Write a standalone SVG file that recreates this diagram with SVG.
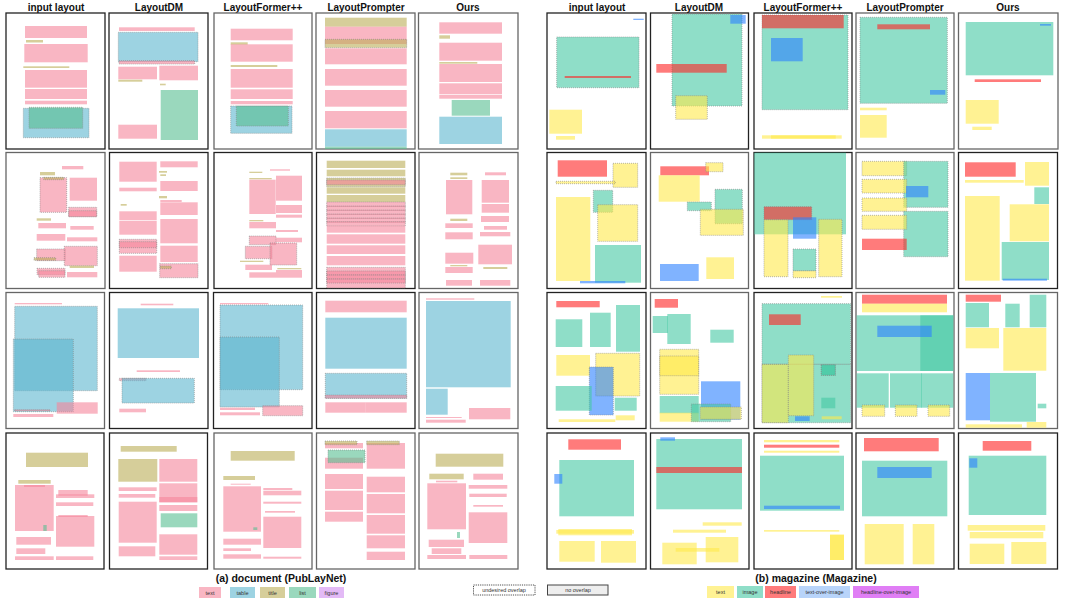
<svg xmlns="http://www.w3.org/2000/svg" width="1079" height="602" viewBox="0 0 1079 602">
<style>
.p{fill:#fff;stroke:#222;stroke-width:1.3}
.g{stroke:#666}
.t{fill:#f5859b;fill-opacity:.6}
.tb{fill:#5cb6cf;fill-opacity:.6}
.ti{fill:#bbad57;fill-opacity:.6}
.li{fill:#57be91;fill-opacity:.6}
.mt{fill:#ffe94b;fill-opacity:.6}
.mi{fill:#44c8a3;fill-opacity:.6}
.mh{fill:#ff2323;fill-opacity:.6}
.to{fill:#2b80ff;fill-opacity:.6}
.o{stroke:#888;stroke-width:.6;stroke-dasharray:1 1}
.h{font-family:"Liberation Sans",Arial,sans-serif;font-weight:bold;font-size:10px;fill:#111;text-anchor:middle}
.cap{font-family:"Liberation Sans",Arial,sans-serif;font-weight:bold;font-size:10.5px;fill:#111;text-anchor:middle}
.lg{font-family:"Liberation Sans",Arial,sans-serif;font-size:5.5px;fill:#333;text-anchor:middle}
</style>

<g id="headers">
<text class="h" x="56" y="11">input layout</text>
<text class="h" x="159" y="11">LayoutDM</text>
<text class="h" x="263" y="11">LayoutFormer++</text>
<text class="h" x="366" y="11">LayoutPrompter</text>
<text class="h" x="468" y="11">Ours</text>
<text class="h" x="597" y="11">input layout</text>
<text class="h" x="699" y="11">LayoutDM</text>
<text class="h" x="803" y="11">LayoutFormer++</text>
<text class="h" x="905" y="11">LayoutPrompter</text>
<text class="h" x="1008" y="11">Ours</text>
</g>

<!-- ROW 1 -->
<g id="doc-r1-input">
<rect class="p" x="6" y="13" width="99" height="136"/>
<rect class="t" x="25" y="26" width="62" height="12"/>
<rect class="ti" x="26" y="40" width="17" height="2.5"/>
<rect class="t" x="24.3" y="44" width="63.4" height="18.3"/>
<rect class="ti" x="23.3" y="66.3" width="46" height="1.7"/>
<rect class="t" x="25" y="70" width="62" height="17.7"/>
<rect class="t" x="25" y="89" width="62" height="10"/>
<rect class="t" x="25" y="100.7" width="62" height="3.6"/>
<rect class="tb o" x="23.3" y="108.3" width="65.7" height="29.4"/>
<rect class="li o" x="29" y="107.3" width="53.7" height="21"/>
</g>
<g id="doc-r1-layoutdm">
<rect class="p" x="109" y="13" width="99" height="136"/>
<rect class="t" x="119" y="27.3" width="75.7" height="3.7"/>
<rect class="tb o" x="118.3" y="32.3" width="79.7" height="29.4"/>
<rect class="t o" x="119" y="60.7" width="75.7" height="3.3"/>
<rect class="t" x="118.3" y="66.7" width="38.7" height="12.6"/>
<rect class="t" x="159.3" y="65.7" width="38.7" height="14.6"/>
<rect class="ti" x="118.3" y="79.7" width="24" height="2"/>
<rect class="ti" x="160" y="83.7" width="5.7" height="1.6"/>
<rect class="li" x="160.7" y="90" width="37.3" height="50"/>
<rect class="t" x="118.3" y="124.7" width="38.7" height="14"/>
</g>
<g id="doc-r1-layoutformer">
<rect class="p g" x="214" y="13" width="98" height="136"/>
<rect class="t" x="230.7" y="28.7" width="62" height="11.6"/>
<rect class="ti" x="230.7" y="42.3" width="17" height="2.4"/>
<rect class="t" x="230.7" y="44.3" width="62" height="17.4"/>
<rect class="ti" x="230.7" y="65" width="46.6" height="2"/>
<rect class="t" x="230.7" y="69" width="62" height="18.7"/>
<rect class="t" x="230.7" y="89.3" width="62" height="9.7"/>
<rect class="t" x="230.7" y="101" width="62" height="3.3"/>
<rect class="tb o" x="230.7" y="106" width="61.3" height="27.3"/>
<rect class="li o" x="236.3" y="106" width="52" height="20"/>
</g>
<g id="doc-r1-layoutprompter">
<rect class="p g" x="316" y="13" width="99" height="136"/>
<rect class="ti" x="325" y="17.7" width="81.7" height="9"/>
<rect class="t" x="325" y="26.7" width="81.7" height="17.3"/>
<rect class="ti o" x="325" y="39.3" width="81.7" height="8.4"/>
<rect class="t" x="325" y="48.3" width="81.7" height="16"/>
<rect class="t" x="325" y="69" width="81.7" height="16.7"/>
<rect class="t" x="325" y="90" width="81.7" height="16.7"/>
<rect class="t" x="325" y="111" width="81.7" height="17.3"/>
<rect class="tb" x="325" y="129.3" width="81.7" height="17.4"/>
<rect class="li" x="325" y="146.7" width="81.7" height="2.3"/>
</g>
<g id="doc-r1-ours">
<rect class="p g" x="418.5" y="13" width="99.5" height="136"/>
<rect class="t" x="439.3" y="22.3" width="62.7" height="11.4"/>
<rect class="ti" x="439.3" y="35.3" width="10.7" height="3.4"/>
<rect class="t" x="439.3" y="42.7" width="62.7" height="18"/>
<rect class="ti" x="439.3" y="62" width="38" height="1.7"/>
<rect class="t" x="439.3" y="64" width="62.7" height="18"/>
<rect class="t" x="439.3" y="83.3" width="62.7" height="11"/>
<rect class="t" x="439.3" y="95" width="62.7" height="3.7"/>
<rect class="li" x="451.7" y="100" width="38.3" height="15.7"/>
<rect class="tb" x="439.3" y="116.7" width="62.7" height="27.3"/>
</g>
<g id="mag-r1-input">
<rect class="p" x="547" y="13" width="99" height="136"/>
<rect class="to" x="633.3" y="18.7" width="10.4" height="1.3"/>
<rect class="mi o" x="556.7" y="37" width="82.3" height="50.7"/>
<rect class="mh" x="564.7" y="76" width="66.3" height="2"/>
<rect class="mt" x="549.3" y="109.7" width="32.7" height="24"/>
<rect class="mt" x="556" y="136" width="19" height="3.7"/>
</g>
<g id="mag-r1-layoutdm">
<rect class="p" x="650.5" y="13" width="98" height="136"/>
<rect class="mi o" x="672" y="14" width="70" height="92"/>
<rect class="to" x="730.3" y="15" width="15.4" height="8.7"/>
<rect class="mh" x="656.3" y="64" width="70.4" height="8.7"/>
<rect class="mt o" x="675.7" y="95.7" width="31.6" height="23.6"/>
</g>
<g id="mag-r1-layoutformer">
<rect class="p" x="754" y="13" width="98" height="136"/>
<rect class="mi o" x="762" y="15" width="86" height="94.7"/>
<rect class="mh" x="762" y="15" width="81.7" height="13.3"/>
<rect class="to" x="771" y="38" width="31.7" height="23.3"/>
<rect class="mt" x="762" y="135.3" width="79.7" height="3.4"/>
<rect class="mt" x="771" y="135.3" width="64.7" height="3.4"/>
</g>
<g id="mag-r1-layoutprompter">
<rect class="p g" x="856" y="13" width="98" height="136"/>
<rect class="mi o" x="860" y="17.3" width="87.3" height="86"/>
<rect class="mh" x="877.3" y="24.3" width="52.7" height="5"/>
<rect class="to" x="930" y="90" width="15.3" height="4.7"/>
<rect class="mt" x="860" y="107.7" width="26.7" height="2.6"/>
<rect class="mt" x="860" y="115" width="26.7" height="22.7"/>
</g>
<g id="mag-r1-ours">
<rect class="p g" x="958.5" y="13" width="99.5" height="136"/>
<rect class="mi" x="965.7" y="22" width="87.6" height="53.3"/>
<rect class="to" x="1040" y="24" width="11" height="1.7"/>
<rect class="mh" x="974.7" y="79.3" width="66.3" height="2.7"/>
<rect class="mt" x="965.7" y="100" width="33" height="23.7"/>
<rect class="mt" x="972.3" y="126.7" width="19.4" height="3.3"/>
</g>

<!-- ROW 2 -->
<g id="doc-r2-input">
<rect class="p g" x="6" y="152.5" width="99" height="136"/>
<rect class="t" x="62" y="166" width="21.3" height="3.3"/>
<rect class="ti" x="40" y="172" width="15" height="3.3"/>
<rect class="t o" x="40" y="177.7" width="26.7" height="34.6"/>
<rect class="ti o" x="43.7" y="177.3" width="20" height="2.4"/>
<rect class="t" x="69.7" y="177.7" width="27.3" height="23"/>
<rect class="t o" x="68.7" y="207.3" width="28" height="9.4"/>
<rect class="t o" x="68.7" y="210.7" width="28" height="6"/>
<rect class="ti" x="36.7" y="218.3" width="14.3" height="2.4"/>
<rect class="t" x="38.3" y="223" width="27.7" height="5.3"/>
<rect class="t" x="70.3" y="226" width="23.4" height="3.7"/>
<rect class="t" x="36.7" y="234" width="28.6" height="6.7"/>
<rect class="t" x="67" y="237.3" width="30.3" height="4"/>
<rect class="t o" x="36.7" y="249" width="28.6" height="11.7"/>
<rect class="t o" x="64.3" y="246.3" width="33" height="19.4"/>
<rect class="ti o" x="34" y="257.7" width="21.7" height="2.6"/>
<rect class="ti" x="69.7" y="265.7" width="24.3" height="2.3"/>
<rect class="t o" x="37" y="268.3" width="28" height="6.4"/>
<rect class="t o" x="38.7" y="270.7" width="26.3" height="6.6"/>
<rect class="t" x="67" y="272" width="30.3" height="5.3"/>
</g>
<g id="doc-r2-layoutdm">
<rect class="p" x="109.5" y="152.5" width="98.5" height="136"/>
<rect class="t" x="119.3" y="161.7" width="37.4" height="20"/>
<rect class="t" x="160.3" y="161.3" width="37.4" height="6"/>
<rect class="ti" x="159" y="171" width="8" height="1.7"/>
<rect class="ti" x="160.3" y="174.3" width="5.7" height="1.7"/>
<rect class="t" x="160.3" y="181" width="37.4" height="10"/>
<rect class="t" x="119.3" y="187.7" width="37.4" height="3.6"/>
<rect class="ti" x="159" y="196" width="8" height="2.3"/>
<rect class="t" x="160.3" y="200" width="21.4" height="2"/>
<rect class="ti" x="120.7" y="204" width="6" height="1.7"/>
<rect class="t" x="160.3" y="202.3" width="37.4" height="12.7"/>
<rect class="t" x="119.3" y="211.3" width="37.4" height="8.7"/>
<rect class="t" x="119.3" y="220.7" width="37.4" height="14"/>
<rect class="t" x="160.3" y="219" width="37.4" height="24.3"/>
<rect class="t o" x="119.3" y="239.3" width="37.4" height="14"/>
<rect class="t o" x="119.3" y="241.7" width="37.4" height="6"/>
<rect class="t" x="119.3" y="255.7" width="37.4" height="16"/>
<rect class="t" x="160.3" y="245.7" width="37.4" height="16.3"/>
<rect class="t o" x="159.7" y="263.7" width="38.3" height="14"/>
<rect class="ti o" x="160.3" y="266" width="11" height="2.7"/>
</g>
<g id="doc-r2-layoutformer">
<rect class="p" x="214" y="152.5" width="98" height="136"/>
<rect class="t" x="270" y="169.3" width="20" height="1.4"/>
<rect class="ti" x="249.3" y="171.7" width="13" height="1.3"/>
<rect class="ti" x="249.3" y="178" width="22.4" height="1.3"/>
<rect class="t" x="249.3" y="179.7" width="26.4" height="34.3"/>
<rect class="t" x="276" y="175.7" width="26" height="25"/>
<rect class="t" x="276" y="205" width="26" height="8"/>
<rect class="t" x="276" y="214.7" width="26" height="3"/>
<rect class="ti" x="249.3" y="220" width="14" height="1.3"/>
<rect class="t" x="249.3" y="222" width="26.7" height="6.3"/>
<rect class="t" x="276" y="230" width="22" height="2"/>
<rect class="t o" x="249.3" y="236" width="26.7" height="8.7"/>
<rect class="t" x="276" y="237.7" width="26" height="4.6"/>
<rect class="t o" x="245.3" y="246.3" width="26.7" height="12.4"/>
<rect class="t o" x="270" y="243" width="26.7" height="22"/>
<rect class="ti" x="240" y="260.7" width="23.3" height="1.3"/>
<rect class="t" x="245.3" y="264.7" width="26.7" height="5.3"/>
<rect class="ti" x="277.3" y="268" width="24" height="1.3"/>
<rect class="t" x="249.3" y="272.3" width="26.7" height="5.4"/>
<rect class="t" x="276" y="270" width="26" height="7.7"/>
</g>
<g id="doc-r2-layoutprompter">
<rect class="p" x="316.5" y="152.5" width="98.5" height="136"/>
<rect class="ti" x="326.7" y="160.7" width="78.6" height="7.3"/>
<rect class="ti" x="326.7" y="169.7" width="78.6" height="6.6"/>
<rect class="ti o" x="326.7" y="178" width="78.6" height="8.7"/>
<rect class="t o" x="326.7" y="180" width="78.6" height="4.7"/>
<rect class="ti" x="326.7" y="187.3" width="78.6" height="6.4"/>
<rect class="ti" x="326.7" y="195" width="78.6" height="7"/>
<rect class="t o" x="326.7" y="202" width="78.6" height="4.5"/>
<rect class="t o" x="326.7" y="206" width="78.6" height="4.5"/>
<rect class="t o" x="326.7" y="210" width="78.6" height="4.5"/>
<rect class="t o" x="326.7" y="214" width="78.6" height="4.5"/>
<rect class="t o" x="326.7" y="218" width="78.6" height="4.5"/>
<rect class="t o" x="326.7" y="221.5" width="78.6" height="4.5"/>
<rect class="t" x="326.7" y="226" width="78.6" height="6.7"/>
<rect class="t" x="326.7" y="234.3" width="78.6" height="9.4"/>
<rect class="t" x="326.7" y="245.3" width="78.6" height="8.7"/>
<rect class="t" x="326.7" y="256" width="78.6" height="9.3"/>
<rect class="t o" x="326.7" y="267.3" width="78.6" height="20.7"/>
<rect class="t o" x="326.7" y="271" width="78.6" height="4"/>
<rect class="t o" x="326.7" y="275" width="78.6" height="4"/>
<rect class="t o" x="326.7" y="279" width="78.6" height="4"/>
</g>
<g id="doc-r2-ours">
<rect class="p g" x="419" y="152.5" width="99" height="136"/>
<rect class="ti" x="450.3" y="172.7" width="17" height="2.6"/>
<rect class="t" x="485" y="172.3" width="21" height="3"/>
<rect class="ti" x="450.3" y="177.3" width="17" height="1.7"/>
<rect class="t" x="446" y="180" width="26.3" height="34.3"/>
<rect class="t" x="481.7" y="180" width="27.3" height="22.7"/>
<rect class="t" x="481.7" y="204" width="27.3" height="8.7"/>
<rect class="t" x="481" y="216" width="28" height="6"/>
<rect class="ti" x="450.3" y="218.7" width="17" height="2.3"/>
<rect class="t" x="445.3" y="223.3" width="27.4" height="4.7"/>
<rect class="t" x="484" y="226" width="23" height="3.7"/>
<rect class="t" x="445.3" y="232.3" width="27.4" height="7"/>
<rect class="t" x="480" y="232" width="30.3" height="4.3"/>
<rect class="t" x="478.3" y="244.7" width="33.7" height="19.6"/>
<rect class="t" x="445.3" y="252.7" width="28" height="11"/>
<rect class="ti" x="450.3" y="265" width="17" height="1.3"/>
<rect class="t" x="445.3" y="267" width="27.4" height="6"/>
<rect class="ti" x="483.3" y="267" width="24" height="2"/>
<rect class="t" x="446" y="280" width="26" height="5.7"/>
<rect class="t" x="480" y="280" width="30.3" height="5.7"/>
</g>
<g id="mag-r2-input">
<rect class="p" x="547" y="152.5" width="99" height="136"/>
<rect class="mh" x="557.7" y="160.3" width="49.3" height="16.4"/>
<rect class="mt o" x="613" y="163.3" width="24.7" height="24"/>
<rect class="mt o" x="556" y="181.3" width="59.3" height="2.4"/>
<rect class="mi o" x="593.3" y="190.3" width="19.4" height="22"/>
<rect class="mt" x="556" y="197" width="34.3" height="84"/>
<rect class="mt o" x="597.7" y="204.7" width="40" height="36.6"/>
<rect class="mi" x="595" y="245" width="46" height="37.7"/>
<rect class="to" x="580" y="281" width="45.3" height="2.3"/>
</g>
<g id="mag-r2-layoutdm">
<rect class="p g" x="650.5" y="152.5" width="98" height="136"/>
<rect class="mh" x="660.3" y="166.3" width="48.7" height="9"/>
<rect class="mt o" x="705.7" y="162.7" width="17.3" height="9"/>
<rect class="mt" x="658.7" y="175.3" width="41" height="26.4"/>
<rect class="mi o" x="687.3" y="202" width="24" height="8.7"/>
<rect class="mi o" x="715" y="189.3" width="27.3" height="34.4"/>
<rect class="mt o" x="700.3" y="209.3" width="43" height="26"/>
<rect class="to" x="660" y="264" width="38.7" height="17"/>
<rect class="mt" x="706.3" y="257.3" width="27.7" height="21.7"/>
</g>
<g id="mag-r2-layoutformer">
<rect class="p" x="754" y="152.5" width="98" height="136"/>
<rect class="mi" x="754.3" y="152.7" width="91.7" height="81.6"/>
<rect class="mh o" x="764" y="206.7" width="47.7" height="13"/>
<rect class="mt o" x="764" y="219.7" width="24" height="57"/>
<rect class="to" x="793" y="217.3" width="23.3" height="21.4"/>
<rect class="mt o" x="818.7" y="219.3" width="23.3" height="57.4"/>
<rect class="mt o" x="793" y="270.7" width="23" height="7"/>
<rect class="mi o" x="793" y="249" width="23" height="21.7"/>
</g>
<g id="mag-r2-layoutprompter">
<rect class="p g" x="856" y="152.5" width="98" height="136"/>
<rect class="mt o" x="862" y="161.3" width="44.7" height="14.4"/>
<rect class="mi o" x="903.7" y="161.3" width="44.3" height="46"/>
<rect class="mt o" x="862" y="179.3" width="44.7" height="13.7"/>
<rect class="to" x="906" y="186" width="22.3" height="11.3"/>
<rect class="mt o" x="862" y="198" width="44.7" height="13.3"/>
<rect class="mi o" x="903.7" y="211.3" width="44.3" height="45.4"/>
<rect class="mt o" x="862" y="215.3" width="44.7" height="14"/>
<rect class="mh" x="862" y="238.7" width="44.7" height="11.3"/>
</g>
<g id="mag-r2-ours">
<rect class="p" x="958.5" y="152.5" width="99" height="136"/>
<rect class="mh" x="965" y="162.3" width="50.7" height="14.4"/>
<rect class="mt" x="1025" y="162" width="24" height="23.7"/>
<rect class="mt" x="965" y="180" width="58.7" height="2.7"/>
<rect class="mi" x="1034.3" y="187.3" width="14.7" height="16.7"/>
<rect class="mt" x="965" y="196" width="34.7" height="84.7"/>
<rect class="mt" x="1009.7" y="204.3" width="39.3" height="37"/>
<rect class="mi" x="1001.7" y="242" width="47.3" height="38"/>
<rect class="to" x="1002.7" y="278.7" width="44.3" height="2"/>
</g>

<!-- ROW 3 -->
<g id="doc-r3-input">
<rect class="p g" x="6" y="292.5" width="98.5" height="136"/>
<rect class="t" x="14.7" y="303" width="47.3" height="1.3"/>
<rect class="tb o" x="14.7" y="306.3" width="82.6" height="84.4"/>
<rect class="tb o" x="13.3" y="339" width="60" height="72.7"/>
<rect class="t" x="56.7" y="402.3" width="41" height="11.4"/>
<rect class="t o" x="14.7" y="409.7" width="35.3" height="1.3"/>
<rect class="t" x="13.3" y="414" width="40" height="3"/>
</g>
<g id="doc-r3-layoutdm">
<rect class="p" x="109.5" y="292.5" width="98.5" height="136"/>
<rect class="t" x="140.7" y="303.7" width="32.6" height="1.6"/>
<rect class="tb" x="117.7" y="308.3" width="81.3" height="49.7"/>
<rect class="t" x="136.7" y="370.3" width="43.3" height="1.7"/>
<rect class="t o" x="119.3" y="378.3" width="26.7" height="2.4"/>
<rect class="tb o" x="122" y="378.3" width="72.3" height="24.7"/>
<rect class="t" x="119.3" y="408.7" width="26.7" height="3.6"/>
</g>
<g id="doc-r3-layoutformer">
<rect class="p" x="213.5" y="292.5" width="98.5" height="136"/>
<rect class="t" x="220" y="303" width="48.3" height="1.3"/>
<rect class="tb o" x="220" y="305" width="82.7" height="84.7"/>
<rect class="tb o" x="220" y="337" width="59.3" height="70"/>
<rect class="t" x="220" y="407.7" width="35" height="2.3"/>
<rect class="t" x="220" y="412.3" width="40" height="3"/>
<rect class="t o" x="262.7" y="405.7" width="40" height="10"/>
</g>
<g id="doc-r3-layoutprompter">
<rect class="p" x="316.5" y="292.5" width="98.5" height="136"/>
<rect class="t" x="325.3" y="300.7" width="81.4" height="11.6"/>
<rect class="tb" x="325.3" y="317.7" width="81.4" height="51"/>
<rect class="tb o" x="325.3" y="373.3" width="81.4" height="25"/>
<rect class="t o" x="325.3" y="395" width="81.4" height="3.3"/>
<rect class="t" x="325.3" y="402.3" width="40" height="10.4"/>
<rect class="t" x="365.3" y="402.3" width="41.4" height="10.4"/>
</g>
<g id="doc-r3-ours">
<rect class="p g" x="419" y="292.5" width="99" height="136"/>
<rect class="t" x="426" y="298.3" width="48.3" height="1.4"/>
<rect class="tb" x="426" y="301" width="84.7" height="86.3"/>
<rect class="tb" x="426" y="388.7" width="21.7" height="26"/>
<rect class="t" x="469" y="408" width="41.3" height="11.3"/>
<rect class="t" x="426" y="417" width="35.7" height="1"/>
<rect class="t" x="426" y="419.7" width="39.7" height="3"/>
</g>
<g id="mag-r3-input">
<rect class="p" x="547" y="292.5" width="99" height="136"/>
<rect class="mh" x="556.3" y="301" width="43.4" height="6.3"/>
<rect class="mi" x="555.7" y="319.3" width="26.6" height="27.7"/>
<rect class="mi" x="590" y="312.7" width="20.7" height="34.3"/>
<rect class="mi" x="616" y="305" width="24" height="46.7"/>
<rect class="mt" x="556.3" y="355" width="33.7" height="20.7"/>
<rect class="mt o" x="595.7" y="353.3" width="44" height="42.7"/>
<rect class="to o" x="589.3" y="367" width="24" height="48"/>
<rect class="mi" x="555.7" y="386" width="36" height="24.7"/>
<rect class="mi" x="614.7" y="397.7" width="22" height="13"/>
<rect class="mt" x="558.7" y="419.3" width="56.6" height="2.7"/>
<rect class="mt" x="615.7" y="415.3" width="19" height="5"/>
</g>
<g id="mag-r3-layoutdm">
<rect class="p g" x="650.5" y="292.5" width="98" height="136"/>
<rect class="mh" x="654.7" y="299" width="23.3" height="8.7"/>
<rect class="mi" x="652.7" y="316" width="15.3" height="17"/>
<rect class="mi" x="667.3" y="314" width="23.4" height="30"/>
<rect class="mi" x="710.3" y="329.7" width="23.4" height="13"/>
<rect class="mt o" x="659.7" y="349.3" width="39" height="45"/>
<rect class="mt o" x="659.7" y="356" width="39" height="19.7"/>
<rect class="to" x="701" y="381.3" width="39.3" height="38.4"/>
<rect class="mi" x="659.7" y="396" width="39" height="17.3"/>
<rect class="mt" x="659.7" y="412.7" width="39" height="9"/>
<rect class="mi o" x="691.3" y="404" width="39.4" height="17.7"/>
<rect class="mt o" x="700.3" y="407" width="41" height="12.3"/>
</g>
<g id="mag-r3-layoutformer">
<rect class="p" x="754" y="292.5" width="98" height="136"/>
<rect class="mt" x="821" y="296" width="21" height="1.7"/>
<rect class="mi o" x="762" y="303.7" width="88.7" height="60.6"/>
<rect class="mh" x="769" y="314.3" width="31.7" height="10.7"/>
<rect class="mi o" x="762" y="364.3" width="88.7" height="58.4"/>
<rect class="mt o" x="762" y="364.3" width="26.3" height="58.4"/>
<rect class="mt o" x="788.3" y="355" width="25.4" height="60.7"/>
<rect class="mi o" x="821.3" y="364.7" width="14" height="10.6"/>
<rect class="mi o" x="821.3" y="364.7" width="14" height="10.6"/>
<rect class="mi" x="821.3" y="397.7" width="14" height="10.6"/>
<rect class="to" x="795" y="416.3" width="14.7" height="4.7"/>
<rect class="mt" x="821.7" y="416.3" width="20" height="3"/>
</g>
<g id="mag-r3-layoutprompter">
<rect class="p g" x="856" y="292.5" width="98" height="136"/>
<rect class="mh" x="862" y="294.7" width="85" height="9"/>
<rect class="mt" x="862" y="303.7" width="85" height="8.6"/>
<rect class="mi" x="856.7" y="315.3" width="96.6" height="55.7"/>
<rect class="mi" x="920.3" y="315.3" width="33" height="55.7"/>
<rect class="to" x="877.3" y="325.7" width="54.4" height="11.3"/>
<rect class="mi" x="856.7" y="373.3" width="32" height="34.4"/>
<rect class="mi" x="890" y="373.3" width="32" height="34.4"/>
<rect class="mi" x="921.3" y="373.3" width="32" height="34.4"/>
<rect class="mt o" x="862" y="405" width="22.7" height="11.3"/>
<rect class="mt o" x="895.3" y="405" width="21.7" height="11.3"/>
<rect class="mt o" x="928" y="405" width="21.7" height="11.3"/>
</g>
<g id="mag-r3-ours">
<rect class="p g" x="958.5" y="292.5" width="99" height="136"/>
<rect class="mh" x="965.7" y="294.7" width="35.3" height="7"/>
<rect class="mi" x="965.7" y="303" width="23.3" height="24.3"/>
<rect class="mi" x="1005.3" y="303.7" width="14.4" height="23.6"/>
<rect class="mi" x="1029.7" y="294.7" width="16.6" height="32.6"/>
<rect class="mt" x="965.7" y="328" width="33.3" height="20.3"/>
<rect class="mt" x="1003.3" y="328" width="43" height="42.7"/>
<rect class="to" x="965.7" y="373" width="24.3" height="47.3"/>
<rect class="mi" x="990" y="373" width="46" height="48.7"/>
<rect class="mi" x="1037.7" y="403.7" width="8.6" height="4.6"/>
<rect class="mt" x="965.7" y="424.3" width="56.3" height="3.4"/>
<rect class="mt" x="1026.7" y="422" width="19.6" height="5.7"/>
</g>

<!-- ROW 4 -->
<g id="doc-r4-input">
<rect class="p" x="6" y="433" width="98" height="136"/>
<rect class="ti" x="26" y="452.7" width="62" height="14.3"/>
<rect class="ti" x="18.3" y="480" width="32.4" height="3.7"/>
<rect class="t" x="24" y="485" width="21" height="2"/>
<rect class="t" x="15" y="485" width="38.7" height="46"/>
<rect class="t" x="58.3" y="490" width="29.4" height="5.7"/>
<rect class="t" x="56" y="494.3" width="38.3" height="3.7"/>
<rect class="t" x="56" y="502.3" width="37.3" height="3.7"/>
<rect class="t" x="58.3" y="515" width="29.4" height="2"/>
<rect class="t" x="56" y="516" width="38.3" height="30.7"/>
<rect class="li" x="43.3" y="525" width="3.4" height="6"/>
<rect class="t" x="16.3" y="537" width="34.7" height="7.7"/>
<rect class="t" x="16.3" y="548.3" width="29" height="5.7"/>
<rect class="t" x="15" y="556.3" width="38.7" height="3.7"/>
<rect class="t" x="56" y="556.3" width="37.3" height="3.7"/>
</g>
<g id="doc-r4-layoutdm">
<rect class="p" x="109.5" y="433" width="98" height="136"/>
<rect class="ti" x="120.7" y="446" width="56" height="5.7"/>
<rect class="ti" x="118.3" y="459" width="39" height="22.7"/>
<rect class="t" x="159.3" y="459" width="38" height="22.7"/>
<rect class="t" x="159.3" y="483.3" width="38" height="19"/>
<rect class="t" x="159.3" y="497" width="38" height="5.3"/>
<rect class="t" x="159.3" y="505" width="38" height="6"/>
<rect class="t" x="118.7" y="487.3" width="38" height="3.7"/>
<rect class="t" x="118.7" y="494" width="36.6" height="3.7"/>
<rect class="t" x="118.7" y="501.7" width="38" height="41"/>
<rect class="li" x="160.7" y="513.3" width="36.6" height="14"/>
<rect class="t" x="159.3" y="534.3" width="38" height="20.4"/>
<rect class="t" x="118.7" y="546.3" width="36.6" height="10"/>
<rect class="t" x="159.3" y="556.3" width="38" height="3.7"/>
</g>
<g id="doc-r4-layoutformer">
<rect class="p g" x="214" y="433" width="98" height="136"/>
<rect class="ti" x="230.7" y="451" width="64" height="9.7"/>
<rect class="ti" x="223.3" y="476" width="31.7" height="4"/>
<rect class="t" x="230.7" y="483.7" width="20" height="1"/>
<rect class="t" x="223.3" y="486.3" width="37.7" height="45.4"/>
<rect class="t" x="263.3" y="488" width="29" height="2"/>
<rect class="t" x="263.3" y="490.7" width="38" height="4.6"/>
<rect class="t" x="263.3" y="501.7" width="38" height="2"/>
<rect class="t" x="265" y="511" width="30" height="1.7"/>
<rect class="t" x="263.3" y="516.7" width="38" height="31.3"/>
<rect class="li" x="253.3" y="527.3" width="4" height="2.7"/>
<rect class="t" x="223.3" y="538.7" width="37.7" height="6"/>
<rect class="t" x="223.3" y="548.3" width="27.7" height="2.7"/>
<rect class="t" x="223.3" y="554.3" width="37.7" height="4.4"/>
<rect class="t" x="263.3" y="556.7" width="38" height="2"/>
</g>
<g id="doc-r4-layoutprompter">
<rect class="p g" x="316.5" y="433" width="98.5" height="136"/>
<rect class="t" x="325" y="443" width="38" height="5.3"/>
<rect class="ti o" x="325" y="441" width="32" height="3.7"/>
<rect class="t" x="366.7" y="443" width="38.3" height="25.7"/>
<rect class="ti o" x="366.7" y="441" width="32.6" height="3.7"/>
<rect class="t" x="325" y="457.7" width="38" height="11"/>
<rect class="li o" x="328" y="450" width="37" height="12.7"/>
<rect class="t" x="325" y="474" width="38" height="15"/>
<rect class="t" x="325" y="490.7" width="38" height="19.3"/>
<rect class="t" x="325" y="511.7" width="38" height="10"/>
<rect class="t" x="366.7" y="476.7" width="38.3" height="15.6"/>
<rect class="t" x="366.7" y="494" width="38.3" height="19.3"/>
<rect class="t" x="366.7" y="515" width="38.3" height="18.7"/>
<rect class="t" x="366.7" y="535.3" width="38.3" height="13"/>
<rect class="t" x="366.7" y="551.7" width="38.3" height="8.3"/>
</g>
<g id="doc-r4-ours">
<rect class="p g" x="419" y="433" width="99" height="136"/>
<rect class="ti" x="435.7" y="453.7" width="67.6" height="13"/>
<rect class="ti" x="429.3" y="473.7" width="34.4" height="5.6"/>
<rect class="t" x="473.3" y="473.7" width="29.7" height="6"/>
<rect class="t" x="436" y="480.7" width="21.3" height="1.6"/>
<rect class="t" x="427.3" y="483.3" width="38.7" height="46"/>
<rect class="t" x="468.7" y="485" width="38.6" height="3.7"/>
<rect class="t" x="469.3" y="493.7" width="37.4" height="3.3"/>
<rect class="t" x="473.3" y="505" width="29.7" height="1.7"/>
<rect class="t" x="468.7" y="512.3" width="38.6" height="30.7"/>
<rect class="li" x="457" y="532" width="3" height="6"/>
<rect class="t" x="428.7" y="539.7" width="35.3" height="7.3"/>
<rect class="t" x="431.7" y="548.3" width="29.6" height="5.7"/>
<rect class="t" x="427.3" y="555" width="38.7" height="4"/>
<rect class="t" x="469.3" y="555" width="38" height="4"/>
</g>
<g id="mag-r4-input">
<rect class="p" x="547" y="433" width="99" height="136"/>
<rect class="mh" x="568.3" y="439.3" width="52.7" height="10.4"/>
<rect class="mi" x="559.3" y="460" width="74.7" height="56.3"/>
<rect class="to" x="554.3" y="474" width="8" height="9.7"/>
<rect class="mt" x="556.3" y="530" width="77.7" height="3.7"/>
<rect class="mt" x="558.3" y="529" width="73.7" height="6.3"/>
<rect class="mt" x="559.3" y="541" width="35.4" height="20.7"/>
<rect class="mt" x="601" y="541" width="35" height="21.7"/>
</g>
<g id="mag-r4-layoutdm">
<rect class="p" x="650.5" y="433" width="98.5" height="136"/>
<rect class="mi" x="656.3" y="439" width="85.7" height="70.3"/>
<rect class="to" x="660.3" y="437.3" width="14.7" height="3.4"/>
<rect class="mh" x="656.3" y="467" width="85.7" height="6"/>
<rect class="mt" x="702.7" y="522.3" width="39" height="3.4"/>
<rect class="mt" x="673" y="529.7" width="53" height="3"/>
<rect class="mt" x="662.3" y="542.7" width="34.4" height="21.6"/>
<rect class="mt" x="705.7" y="537" width="32.6" height="25.3"/>
<rect class="mt" x="675.7" y="548" width="43.6" height="3.7"/>
</g>
<g id="mag-r4-layoutformer">
<rect class="p" x="754" y="433" width="98" height="136"/>
<rect class="mt" x="764" y="440" width="75.3" height="2.3"/>
<rect class="mh" x="764" y="444.7" width="75.3" height="3"/>
<rect class="mt" x="764" y="450.7" width="75.3" height="2"/>
<rect class="mi" x="760" y="455.7" width="84" height="55"/>
<rect class="to" x="764" y="505.7" width="76" height="3.3"/>
<rect class="mt" x="764" y="530" width="75.3" height="1.7"/>
<rect class="mt" x="830" y="534.7" width="14" height="25.3"/>
<rect class="mt" x="830" y="534.7" width="14" height="25.3"/>
</g>
<g id="mag-r4-layoutprompter">
<rect class="p" x="856" y="433" width="98" height="136"/>
<rect class="mh" x="864" y="438" width="74.7" height="13.3"/>
<rect class="mi" x="862" y="460.7" width="85.3" height="55.6"/>
<rect class="to" x="877.3" y="467" width="54.4" height="11"/>
<rect class="mt" x="864.7" y="524" width="39" height="40.3"/>
<rect class="mt" x="912.7" y="524" width="21.6" height="40.3"/>
</g>
<g id="mag-r4-ours">
<rect class="p" x="958.5" y="433" width="99" height="136"/>
<rect class="mh" x="982.7" y="441" width="48.6" height="9.7"/>
<rect class="mi" x="968.7" y="455.7" width="77.6" height="59.3"/>
<rect class="to" x="969.3" y="458.3" width="8" height="9.4"/>
<rect class="mt" x="967.7" y="525" width="77.6" height="5.7"/>
<rect class="mt" x="969.7" y="532" width="73.6" height="6.3"/>
<rect class="mt" x="969.7" y="543.7" width="34.6" height="20.3"/>
<rect class="mt" x="1011.3" y="542" width="35" height="22"/>
</g>

<g id="legend-doc">
<text class="cap" x="281" y="582">(a) document (PubLayNet)</text>
<rect x="199" y="587" width="22" height="11" fill="#f9b6c3"/>
<text class="lg" x="210" y="594.5">text</text>
<rect x="230" y="587" width="25" height="11" fill="#9dd3e2"/>
<text class="lg" x="242.5" y="594.5">table</text>
<rect x="260" y="587" width="25" height="11" fill="#d6ce9a"/>
<text class="lg" x="272.5" y="594.5">title</text>
<rect x="289" y="587" width="27" height="11" fill="#9ad8bd"/>
<text class="lg" x="302.5" y="594.5">list</text>
<rect x="319" y="587" width="25" height="11" fill="#e3baf6"/>
<text class="lg" x="331.5" y="594.5">figure</text>
</g>
<g id="legend-overlap">
<rect x="473.5" y="585" width="61.5" height="10" fill="#fff" stroke="#222" stroke-width=".8" stroke-dasharray="1.2 1"/>
<text class="lg" x="504" y="592">undesired overlap</text>
<rect x="547.5" y="585" width="60.5" height="10" fill="#eee" stroke="#444" stroke-width="1"/>
<text class="lg" x="578" y="592">no overlap</text>
</g>
<g id="legend-mag">
<text class="cap" x="816" y="582">(b) magazine (Magazine)</text>
<rect x="707" y="586" width="27" height="12" fill="#fff293"/>
<text class="lg" x="720.5" y="594">text</text>
<rect x="737" y="586" width="26" height="12" fill="#8fdec8"/>
<text class="lg" x="750" y="594">image</text>
<rect x="765" y="586" width="31" height="12" fill="#ff7b7b"/>
<text class="lg" x="780.5" y="594">headline</text>
<rect x="799" y="586" width="51" height="12" fill="#b8d4fa"/>
<text class="lg" x="824.5" y="594">text-over-image</text>
<rect x="853" y="586" width="66" height="12" fill="#e07ef5"/>
<text class="lg" x="886" y="594">headline-over-image</text>
</g>
</svg>
